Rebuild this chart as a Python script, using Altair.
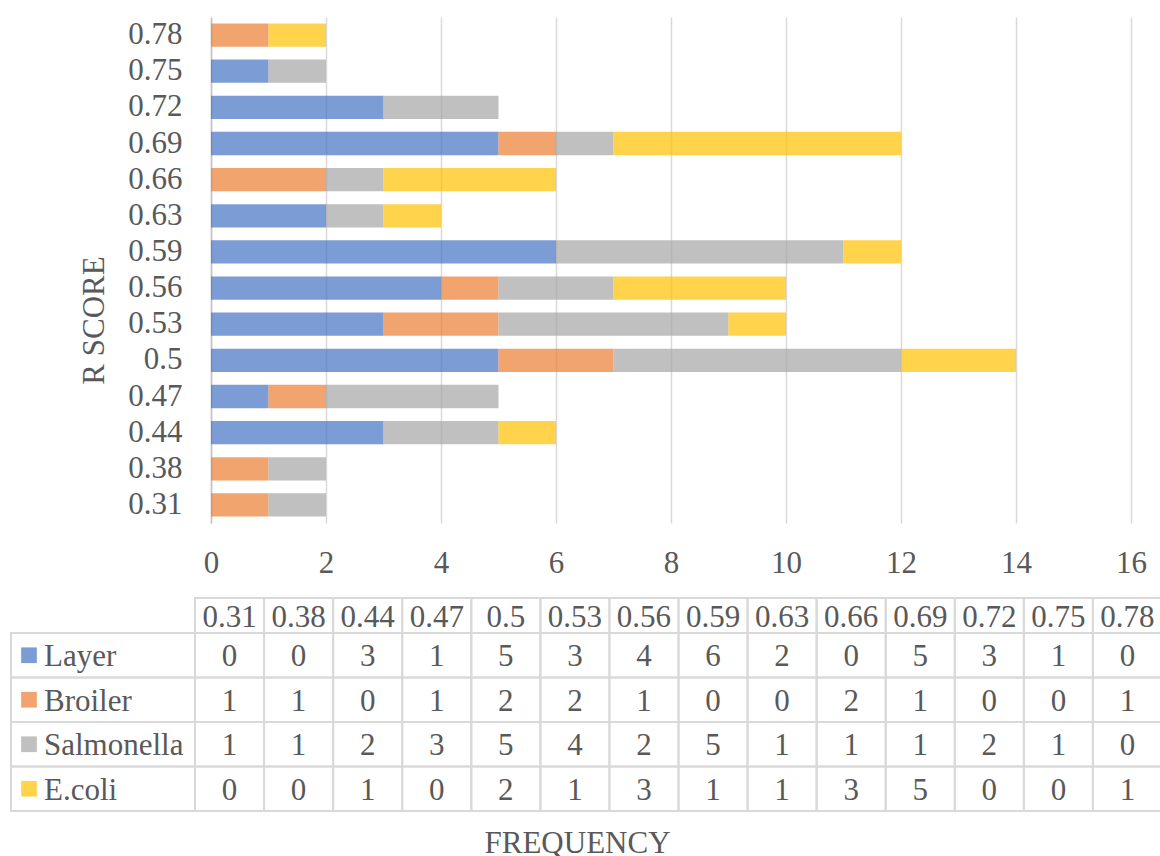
import altair as alt
import pandas as pd

# R-score categories and per-source frequencies
scores = ["0.31", "0.38", "0.44", "0.47", "0.5", "0.53", "0.56",
          "0.59", "0.63", "0.66", "0.69", "0.72", "0.75", "0.78"]
series = ["Layer", "Broiler", "Salmonella", "E.coli"]
layer = [0, 0, 3, 1, 5, 3, 4, 6, 2, 0, 5, 3, 1, 0]
broiler = [1, 1, 0, 1, 2, 2, 1, 0, 0, 2, 1, 0, 0, 1]
salmonella = [1, 1, 2, 3, 5, 4, 2, 5, 1, 1, 1, 2, 1, 0]
ecoli = [0, 0, 1, 0, 2, 1, 3, 1, 1, 3, 5, 0, 0, 1]
colors = ["#4472C4", "#ED7D31", "#A5A5A5", "#FFC000"]

rows = []
for i, (name, vals) in enumerate(zip(series, [layer, broiler, salmonella, ecoli])):
    for s, v in zip(scores, vals):
        rows.append({"series": name, "order": i, "score": s, "count": v})
df = pd.DataFrame(rows)
head_df = pd.DataFrame({"score": scores, "band": "header"})
name_df = pd.DataFrame({"series": series, "col": "name"})

# styling / layout
FONT = "Liberation Serif"
FS = 31
TXT = "#595959"
LINE = "#D9D9D9"
W, H = 920, 506

# data-table placement, relative to the plot origin
COL_RANGE = [-16, 951]
NAME_RANGE = [-200, -16]
HEAD_RANGE = [581, 616]
BODY_RANGE = [616, 794]

color_scale = alt.Scale(domain=series, range=colors)

bars = alt.Chart(df).mark_bar(opacity=0.7).encode(
    y=alt.Y(
        "score:N",
        sort=scores[::-1],
        scale=alt.Scale(paddingInner=0.355, paddingOuter=0.1775),
        axis=alt.Axis(
            title="R SCORE", ticks=False, tickSize=0, labelPadding=29,
            labelFont=FONT, labelFontSize=FS, labelColor=TXT,
            domain=True, domainColor="#C4C4C4", domainWidth=1.5,
            titleFont=FONT, titleFontSize=FS, titleFontWeight="normal",
            titleColor=TXT, titleAngle=270, titleAlign="center",
            titleBaseline="alphabetic", titleX=-108, titleY=303,
        ),
    ),
    x=alt.X(
        "count:Q",
        stack="zero",
        scale=alt.Scale(domain=[0, 16], nice=False),
        axis=alt.Axis(
            title="FREQUENCY", values=list(range(0, 17, 2)),
            grid=True, gridColor=LINE, gridWidth=1.5,
            domain=False, ticks=False, tickSize=0,
            labelFont=FONT, labelFontSize=FS, labelColor=TXT,
            labelPadding=49, labelBaseline="alphabetic",
            labelFlush=False, labelOverlap=False,
            titleFont=FONT, titleFontSize=FS, titleFontWeight="normal",
            titleColor=TXT, titleAlign="center", titleBaseline="alphabetic",
            titleX=366, titleY=329,
        ),
    ),
    color=alt.Color("series:N", scale=color_scale, legend=None),
    order=alt.Order("order:Q"),
)

col_x = alt.X("score:N", scale=alt.Scale(domain=scores, range=COL_RANGE,
                                         paddingInner=0, paddingOuter=0), axis=None)
head_y = alt.Y("band:N", scale=alt.Scale(domain=["header"], range=HEAD_RANGE,
                                         paddingInner=0, paddingOuter=0), axis=None)
body_y = alt.Y("series:N", scale=alt.Scale(domain=series, range=BODY_RANGE,
                                           paddingInner=0, paddingOuter=0), axis=None)
name_x = alt.X("col:N", scale=alt.Scale(domain=["name"], range=NAME_RANGE,
                                        paddingInner=0, paddingOuter=0), axis=None)

cell = dict(fillOpacity=0, stroke=LINE, strokeWidth=2)
txt = dict(font=FONT, fontSize=FS, color=TXT, baseline="alphabetic", dy=11)

head_cells = alt.Chart(head_df).mark_rect(**cell).encode(x=col_x, y=head_y)
head_text = alt.Chart(head_df).mark_text(**txt).encode(x=col_x, y=head_y, text="score:N")

body_cells = alt.Chart(df).mark_rect(**cell).encode(x=col_x, y=body_y)
body_text = alt.Chart(df).mark_text(**txt).encode(x=col_x, y=body_y, text="count:Q")

# series-name column: colour key plus name, offset from the cell centre
name_cells = alt.Chart(name_df).mark_rect(**cell).encode(x=name_x, y=body_y)
name_swatch = alt.Chart(name_df).mark_square(size=246, opacity=0.7, xOffset=-74).encode(
    x=name_x, y=body_y,
    color=alt.Color("series:N", scale=color_scale, legend=None),
)
name_text = alt.Chart(name_df).mark_text(align="left", dx=-59, **txt).encode(
    x=name_x, y=body_y, text="series:N"
)

chart = alt.layer(
    bars, head_cells, head_text, body_cells, body_text,
    name_cells, name_swatch, name_text,
).resolve_scale(
    x="independent", y="independent"
).properties(
    width=W, height=H,
    autosize=alt.AutoSizeParams(type="none"),
    padding={"left": 211, "top": 17, "right": 29, "bottom": 333},
    background="white",
).configure_view(stroke=None)

chart.save("out.html", embed_options={"renderer": "svg", "actions": False})
